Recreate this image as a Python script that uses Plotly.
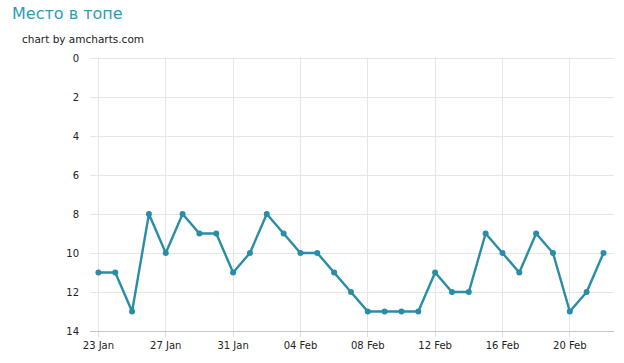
import plotly.graph_objects as go
import pandas as pd

dates = pd.date_range("2013-01-23", "2013-02-22", freq="D").strftime("%Y-%m-%d").tolist()
positions = [11, 11, 13, 8, 10, 8, 9, 9, 11, 10, 8, 9, 10, 10, 11, 12, 13, 13, 13, 13,
             11, 12, 12, 9, 10, 11, 9, 10, 13, 12, 10]
y_ticks = [0, 2, 4, 6, 8, 10, 12, 14]

line_color = "#2a8da6"

fig = go.Figure()
fig.add_trace(go.Scatter(
    x=dates, y=positions, mode="lines+markers",
    line=dict(color=line_color, width=2.4),
    marker=dict(color=line_color, size=6),
    hoverinfo="x+y", showlegend=False,
))

fig.update_layout(
    width=624, height=363,
    margin=dict(l=90, r=10, t=58, b=32),
    paper_bgcolor="white", plot_bgcolor="white",
    font=dict(family="DejaVu Sans", size=10, color="#222222"),
)
fig.add_annotation(text="Место в топе", xref="paper", yref="paper",
                   x=-80/524, y=1 + 44/273, xanchor="left", yanchor="middle",
                   showarrow=False, font=dict(size=16, color="#2a9db5", family="DejaVu Sans"))
fig.add_annotation(text="chart by amcharts.com", xref="paper", yref="paper",
                   x=-70/524, y=1 + 19/273, xanchor="left", yanchor="middle",
                   showarrow=False, font=dict(size=10.5, color="#222222", family="DejaVu Sans"))

fig.update_xaxes(
    type="date",
    range=["2013-01-22 12:00", "2013-02-22 15:00"],
    tick0="2013-01-23", dtick=4 * 86400000, tickformat="%d %b",
    showgrid=True, gridcolor="#e6e6e6", gridwidth=1,
    showline=True, linecolor="#c8c8c8", linewidth=1,
    ticks="outside", ticklen=5, tickcolor="#dddddd",
    zeroline=False,
)
fig.update_yaxes(
    range=[14, 0], tickvals=y_ticks,
    showgrid=True, gridcolor="#e6e6e6", gridwidth=1,
    showline=False, ticks="", ticklabelstandoff=10,
    zeroline=False,
)
fig.add_shape(type="line", xref="paper", yref="y", x0=0, x1=1, y0=0, y1=0,
              line=dict(color="#cccccc", width=1))

fig.write_html("out.html", config={"displayModeBar": False},
               post_script="document.body.style.margin='0';document.body.style.overflow='hidden';")
